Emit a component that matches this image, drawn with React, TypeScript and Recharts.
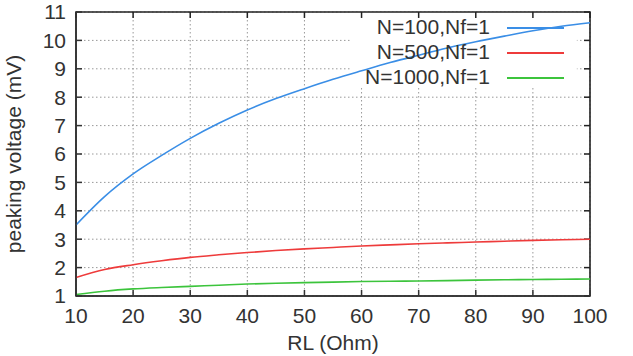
import { LineChart, Line, XAxis, YAxis, CartesianGrid, ReferenceArea, ReferenceLine } from 'recharts'

// load resistance (Ohm)
const rl = [10, 15, 20, 25, 30, 35, 40, 45, 50, 55, 60, 65, 70, 75, 80, 85, 90, 95, 100]

// peaking voltage (mV) for each configuration
const n100 = [3.5, 4.5, 5.3, 5.95, 6.55, 7.08, 7.55, 7.95, 8.3, 8.63, 8.93, 9.22, 9.48, 9.73, 9.95, 10.15, 10.34, 10.5, 10.62]
const n500 = [1.65, 1.93, 2.1, 2.24, 2.36, 2.45, 2.53, 2.6, 2.66, 2.71, 2.76, 2.8, 2.84, 2.87, 2.9, 2.93, 2.96, 2.98, 3.0]
const n1000 = [1.05, 1.17, 1.25, 1.3, 1.34, 1.38, 1.42, 1.45, 1.47, 1.49, 1.51, 1.52, 1.53, 1.54, 1.56, 1.57, 1.58, 1.59, 1.6]

const xTicks = [10, 20, 30, 40, 50, 60, 70, 80, 90, 100]
const yTicks = [1, 2, 3, 4, 5, 6, 7, 8, 9, 10, 11]

const series = [
  { key: 'n100', name: 'N=100,Nf=1', color: '#3a8ee6' },
  { key: 'n500', name: 'N=500,Nf=1', color: '#ee3b3b' },
  { key: 'n1000', name: 'N=1000,Nf=1', color: '#3cc43c' },
]

const data = rl.map((r, i) => ({ rl: r, n100: n100[i], n500: n500[i], n1000: n1000[i] }))

const font = '"Liberation Sans", Arial, sans-serif'
const tickStyle = { fontSize: 21, fill: '#333', fontFamily: font }

// inward tick length in data units along each axis (~6px)
const tickX = 1.05
const tickY = 0.21

export default function App() {
  return (
    <div style={{ position: 'absolute', left: 0, top: 0, width: 633, height: 356, background: '#fff' }}>
      <LineChart width={633} height={356} data={data} margin={{ top: 12, right: 43, left: 0, bottom: 0 }}>
        <CartesianGrid stroke="#999" strokeDasharray="1.5 2.5" />
        {/* legend backdrop hides the grid, curves still draw over it */}
        <ReferenceArea x1={58.3} x2={97.7} y1={8.35} y2={11} fill="#fff" fillOpacity={1} stroke="none" />
        {/* plot frame with inward ticks on top and right */}
        <ReferenceArea x1={10} x2={100} y1={1} y2={11} fill="none" stroke="#222" strokeWidth={1.6} ifOverflow="visible" />
        {xTicks.map((t) => (
          <ReferenceLine key={`tx${t}`} segment={[{ x: t, y: 11 }, { x: t, y: 11 - tickY }]} stroke="#222" strokeWidth={1.5} ifOverflow="visible" />
        ))}
        {yTicks.map((t) => (
          <ReferenceLine key={`ty${t}`} segment={[{ x: 100, y: t }, { x: 100 - tickX, y: t }]} stroke="#222" strokeWidth={1.5} ifOverflow="visible" />
        ))}
        <XAxis
          dataKey="rl"
          type="number"
          domain={[10, 100]}
          ticks={xTicks}
          interval={0}
          height={60}
          stroke="#333"
          strokeWidth={1.5}
          tickSize={-6}
          tickMargin={18}
          tick={tickStyle}
          label={{ value: 'RL (Ohm)', position: 'insideBottom', offset: 6, style: { ...tickStyle, textAnchor: 'middle' } }}
        />
        <YAxis
          type="number"
          domain={[1, 11]}
          ticks={yTicks}
          interval={0}
          width={76}
          stroke="#333"
          strokeWidth={1.5}
          tickSize={-6}
          tickMargin={16}
          tick={tickStyle}
          label={{ value: 'peaking voltage (mV)', angle: -90, position: 'insideLeft', offset: 14, style: { ...tickStyle, textAnchor: 'middle' } }}
        />
        {series.map((s) => (
          <Line
            key={s.key}
            dataKey={s.key}
            name={s.name}
            stroke={s.color}
            strokeWidth={1.6}
            dot={false}
            type="monotone"
            isAnimationActive={false}
          />
        ))}
      </LineChart>
      <div style={{ position: 'absolute', left: 0, top: 14, width: 633, fontFamily: font, fontSize: 21, color: '#333' }}>
        {series.map((s) => (
          <div key={s.key} style={{ position: 'relative', height: 25, lineHeight: '25px' }}>
            <span style={{ position: 'absolute', right: 633 - 490, whiteSpace: 'nowrap' }}>{s.name}</span>
            <span style={{ position: 'absolute', left: 507, top: 13, width: 57, height: 2, background: s.color }} />
          </div>
        ))}
      </div>
    </div>
  )
}
